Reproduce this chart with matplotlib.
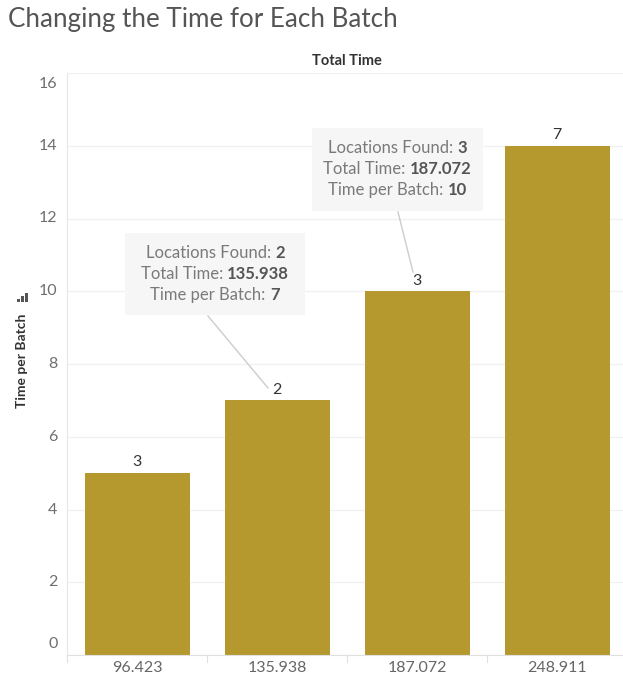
import matplotlib.pyplot as plt
from matplotlib.patches import Rectangle
from matplotlib.lines import Line2D

# data
total_time = ['96.423', '135.938', '187.072', '248.911']
time_per_batch = [5, 7, 10, 14]
locations_found = [3, 2, 3, 7]
y_ticks = [0, 2, 4, 6, 8, 10, 12, 14, 16]

W, H = 623, 682
plt.rcParams['font.family'] = ['Lato', 'DejaVu Sans']

fig = plt.figure(figsize=(W / 100, H / 100), dpi=100)

def fx(px):
    return px / W

def fy(py):
    return 1 - py / H

# axes: left 67px, bottom 655px, top 73px, right past the edge
ax = fig.add_axes([fx(67), fy(655), fx(627) - fx(67), fy(73) - fy(655)])
x = range(len(total_time))
ax.bar(x, time_per_batch, width=0.75, color='#b5992f', zorder=2)
ax.set_xlim(-0.5, len(total_time) - 0.5)
ax.set_ylim(0, 16)

for i, (v, n) in enumerate(zip(time_per_batch, locations_found)):
    ax.text(i, v + 0.1, str(n), ha='center', va='bottom', fontsize=11.5, color='#333333', zorder=3)

ax.set_yticks(y_ticks)
ax.set_yticklabels([])
ax.set_xticks([])
for s in ['top', 'right']:
    ax.spines[s].set_visible(False)
ax.spines['left'].set_color('#e6e6e6')
ax.spines['bottom'].set_color('#e0e0e0')
ax.tick_params(axis='y', length=0)
ax.grid(axis='y', color='#f0f0f0', linewidth=0.9, zorder=0)

# y tick labels, Tableau keeps the edge ones inside
for t in y_ticks:
    off = 0
    va = 'center'
    if t == 0:
        va = 'bottom'
        off = 0.1
    elif t == 16:
        va = 'top'
        off = -0.1
    ax.text(-0.017, t + off, str(t), transform=ax.get_yaxis_transform(), ha='right', va=va,
            fontsize=11.5, color='#6e6e6e')

# x category labels and separators
for i, lab in enumerate(total_time):
    fig.text(fx(67 + 140 * i + 70), fy(668), lab, ha='center', va='center', fontsize=11.5, color='#666666')
for i in range(len(total_time)):
    px = 67 + 140 * i
    fig.add_artist(Line2D([fx(px), fx(px)], [fy(655), fy(662)], color='#e0e0e0', linewidth=0.8))

# titles
fig.text(fx(8), fy(19), 'Changing the Time for Each Batch', ha='left', va='center',
         fontsize=18.7, color='#555555')
fig.text(fx(347), fy(61), 'Total Time', ha='center', va='center', fontsize=10.5,
         fontweight='bold', color='#333333')
fig.text(fx(22), fy(361), 'Time per Batch', rotation=90, ha='center', va='center',
         fontsize=10, fontweight='bold', color='#333333')
# little sort icon above the axis title
for k, h in enumerate([3, 6, 9]):
    fig.add_artist(Rectangle((fx(17 + 4 * k), fy(302)), fx(2.5), h / H, color='#555555', linewidth=0))

# tooltip boxes
def tooltip(left, top, right, bottom, idx, tip_from, tip_to):
    fig.add_artist(Rectangle((fx(left), fy(bottom)), fx(right - left), (bottom - top) / H,
                             facecolor='#f6f6f6', edgecolor='none', zorder=5))
    fig.add_artist(Line2D([fx(tip_from[0]), fx(tip_to[0])], [fy(tip_from[1]), fy(tip_to[1])],
                          color='#cccccc', linewidth=1, zorder=5))
    lines = [('Locations Found: ', str(locations_found[idx])),
             ('Total Time: ', total_time[idx]),
             ('Time per Batch: ', str(time_per_batch[idx]))]
    cx = (left + right) / 2
    r = fig.canvas.get_renderer()
    for j, (a, b) in enumerate(lines):
        py = top + 20 + j * 21
        ta = fig.text(0, fy(py), a, ha='left', va='center', fontsize=12, color='#7a7a7a', zorder=6)
        tb = fig.text(0, fy(py), b, ha='left', va='center', fontsize=12, color='#555555',
                      fontweight='bold', zorder=6)
        wa = ta.get_window_extent(r).width
        wb = tb.get_window_extent(r).width
        x0 = cx - (wa + wb) / 2
        ta.set_x(fx(x0))
        tb.set_x(fx(x0 + wa))

tooltip(125, 233, 305, 315, 1, (208, 316), (268, 388))
tooltip(312, 128, 483, 211, 2, (398, 212), (413, 272))

fig.savefig('out.png', dpi=100)
